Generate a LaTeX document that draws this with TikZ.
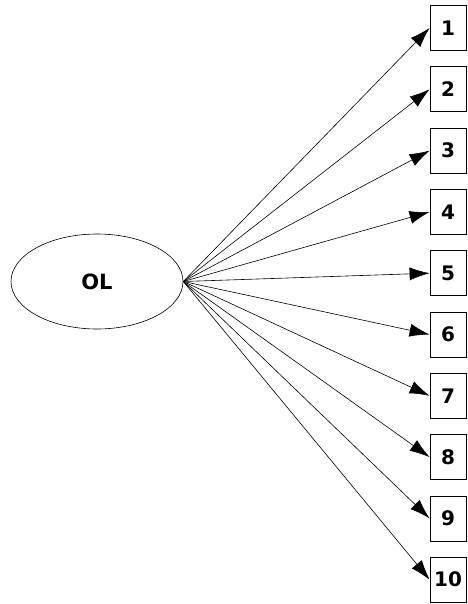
\documentclass[tikz,border=0pt]{standalone}
\usepackage{fontspec}
\setmainfont{DejaVu Sans}
\usetikzlibrary{arrows.meta,shapes.geometric}
\begin{document}
\begin{tikzpicture}[
                x = 1pt, y = -1pt,
                latent/.style = {draw, semithick, ellipse, minimum width = 172pt, minimum height = 95pt, inner sep = 0pt,
                    font = \fontsize{21}{23}\selectfont\bfseries},
                item/.style = {draw, thick, rectangle, minimum width = 36pt, minimum height = 45pt, inner sep = 0pt,
                    font = \fontsize{20}{22}\selectfont\bfseries},
                arr/.style = {draw, semithick, -{Latex[length = 20pt, width = 13pt]}},
            ]
            \useasboundingbox (0, 0) rectangle (467, 604);
            \node (OL) at (97, 281.5) [latent] {OL};

            \foreach \i in {1, ..., 10} {
                \node (I\i) at (448, 28 + 61.3 * \i - 61.3) [item] {\i};
                \path[arr] (OL.east) -- (I\i.west);
            }
        \end{tikzpicture}
\end{document}
